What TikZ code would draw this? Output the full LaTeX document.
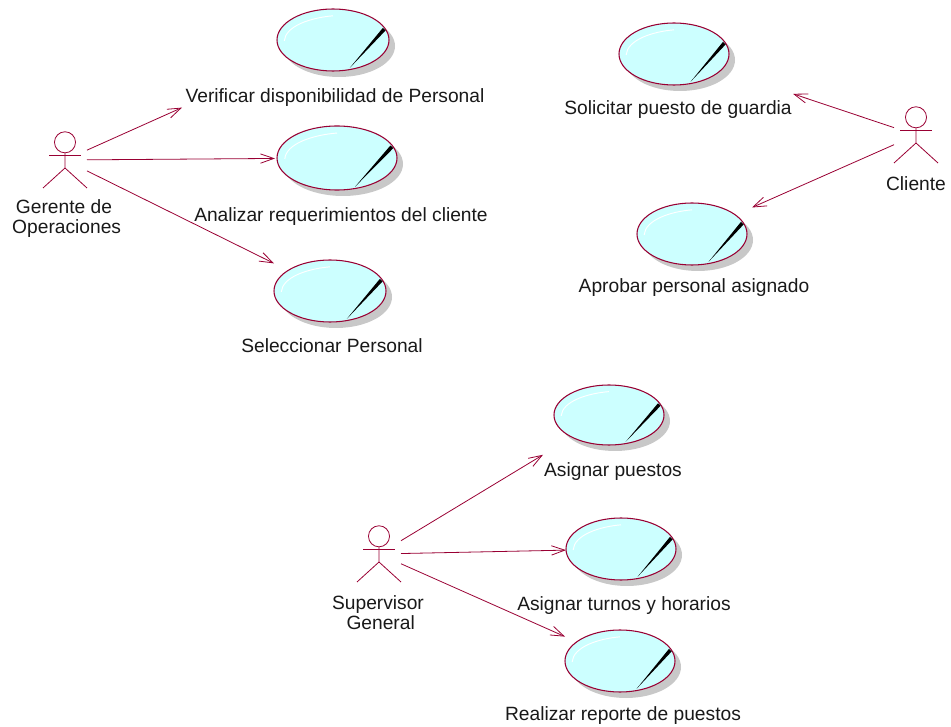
\documentclass[tikz,border=0pt]{standalone}
\usepackage{fontspec}
\setmainfont{Liberation Sans}
\definecolor{rosemaroon}{HTML}{990033}
\definecolor{rosecyan}{HTML}{CCFFFF}
\definecolor{roseshadow}{HTML}{C8C8C8}
\usetikzlibrary{positioning,shapes.geometric,arrows.meta}
\tikzset{
  ucell/.style={draw=rosemaroon, fill=rosecyan, ellipse, inner sep=0pt, line width=0.8pt},
  ucshadow/.style={fill=roseshadow, ellipse, inner sep=0pt},
  hitbox/.style={inner sep=0pt, outer sep=0pt},
  actorline/.style={draw=rosemaroon, line width=0.6pt},
  assoc/.style={draw=rosemaroon, line width=0.6pt, -{Straight Barb[length=10pt,width=7pt]}},
  uclabel/.style={inner sep=0pt, text=black!90, align=center, font=\fontsize{14.4}{15}\selectfont}
}
% name, x, y, half width, half height, half width of the arrow box
\newcommand{\usecase}[6]{
  \node[ucshadow, minimum width=#4*1.5pt, minimum height=#5*1.5pt] (#1s) at (#2+6,#3+6) {};
  \node[ucell, minimum width=#4*1.5pt, minimum height=#5*1.5pt] (#1e) at (#2,#3) {};
  \begin{scope}[shift={(#2,#3)}, x=#4*0.75pt, y=-#5*0.75pt]
    \draw[white, line width=0.7pt] (-0.87,0.03) .. controls (-0.85,-0.45) and (-0.4,-0.72) .. (0,-0.78);
    \fill[black] (0.30,0.90) -- (0.89,-0.39) -- (0.94,-0.31) -- cycle;
  \end{scope}
  \node[hitbox, minimum width=#6*1.5pt, minimum height=105pt] (#1) at (#2,#3) {};
}
% name, x, y (y is the height the associations leave from)
\newcommand{\actor}[3]{
  \node[hitbox, minimum width=33pt, minimum height=42pt] (#1) at (#2,#3) {};
  \begin{scope}[shift={(#2,#3)}]
    \draw[actorline] (0,-17.7) circle[radius=7.9pt];
    \draw[actorline] (-16,-4.3) -- (16,-4.3);
    \draw[actorline] (0,-7.2) -- (0,8) (-22,28) -- (0,8) -- (22,28);
  \end{scope}
}
\begin{document}
\begin{tikzpicture}[x=0.75pt, y=-0.75pt]
  \useasboundingbox (0,0) rectangle (951,727);
  % use cases
  \usecase{verif}{333}{40}{56}{31}{151}
  \usecase{analizar}{337}{158}{60}{32}{62}
  \usecase{selec}{330}{291}{56}{31}{56}
  \usecase{solicitar}{674}{54}{55}{31}{119}
  \usecase{aprobar}{692}{234}{55}{31}{60}
  \usecase{puestos}{609}{415}{55}{30}{66}
  \usecase{turnos}{621}{549}{55}{31}{55}
  \usecase{reporte}{620}{661}{55}{31}{55}
  \node[uclabel] (verifl) at (335,98) {Verificar disponibilidad de Personal};
  \node[uclabel] (analizarl) at (341,217) {Analizar requerimientos del cliente};
  \node[uclabel] (selecl) at (332,346) {Seleccionar Personal};
  \node[uclabel] (solicitarl) at (678,110) {Solicitar puesto de guardia};
  \node[uclabel] (aprobarl) at (694,288) {Aprobar personal asignado};
  \node[uclabel] (puestosl) at (613,472) {Asignar puestos};
  \node[uclabel] (turnosl) at (624,606) {Asignar turnos y horarios};
  \node[uclabel] (reportel) at (623,716) {Realizar reporte de puestos};
  % actors
  \actor{gerente}{65}{160}
  \actor{cliente}{916}{135}
  \actor{supervisor}{379}{554}
  \node[uclabel] (gerentel) at (64,219) {Gerente de\\\ Operaciones};
  \node[uclabel] (clientel) at (916,184) {Cliente};
  \node[uclabel] (supervisorl) at (378,613) {Supervisor\\\ General};
  % associations
  \draw[assoc] (gerente) -- (verif);
  \draw[assoc] (gerente) -- (analizar);
  \draw[assoc] (gerente) -- (selec);
  \draw[assoc] (cliente) -- (solicitar);
  \draw[assoc] (cliente) -- (aprobar);
  \draw[assoc] (supervisor) -- (puestos);
  \draw[assoc] (supervisor) -- (turnos);
  \draw[assoc] (supervisor) -- (reporte);
\end{tikzpicture}
\end{document}
